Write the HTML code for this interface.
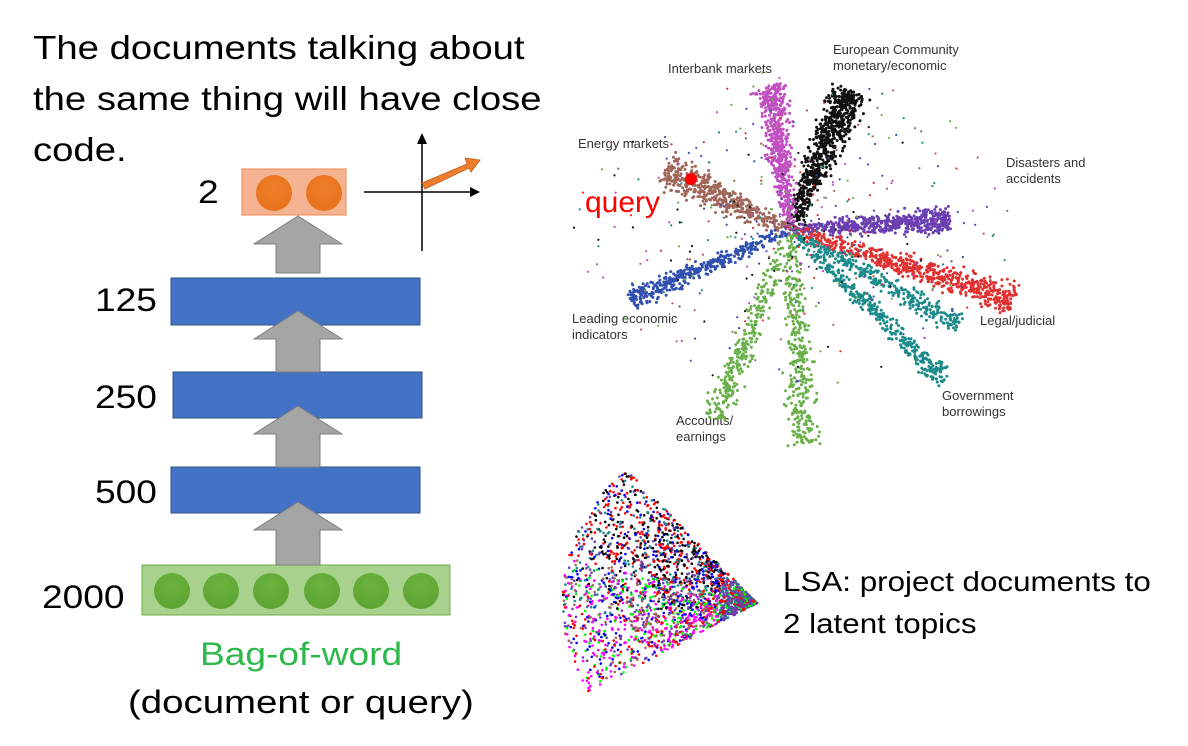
<!DOCTYPE html>
<html><head><meta charset="utf-8"><style>
body{margin:0;width:1188px;height:746px;background:#fff;overflow:hidden;position:relative;font-family:"Liberation Sans",sans-serif}
.t{position:absolute;white-space:nowrap;line-height:1;transform:scaleX(1.16);transform-origin:0 0}
.s{position:absolute;white-space:nowrap;font-size:13px;color:#333;line-height:1.25}
</style></head><body>
<div class="t" style="left:33px;top:22px;font-size:33px;line-height:51px">The documents talking about<br>the same thing will have close<br>code.</div>
<div class="t" style="left:198px;top:176px;font-size:32px">2</div>
<div class="t" style="left:95px;top:284px;font-size:32px">125</div>
<div class="t" style="left:95px;top:381px;font-size:32px">250</div>
<div class="t" style="left:95px;top:476px;font-size:32px">500</div>
<div class="t" style="left:42px;top:581px;font-size:32px">2000</div>
<div class="t" style="left:200px;top:638px;font-size:32px;color:#2db84a">Bag-of-word</div>
<div class="t" style="left:128px;top:686px;font-size:32px;transform:scaleX(1.2)">(document or query)</div>
<div class="t" style="left:783px;top:561px;font-size:28px;line-height:42px;transform:scaleX(1.12)">LSA: project documents to<br>2 latent topics</div>
<div class="s" style="left:668px;top:61px">Interbank markets</div>
<div class="s" style="left:833px;top:42px">European Community<br>monetary/economic</div>
<div class="s" style="left:578px;top:136px">Energy markets</div>
<div class="s" style="left:1006px;top:155px">Disasters and<br>accidents</div>
<div class="s" style="left:572px;top:311px">Leading economic<br>indicators</div>
<div class="s" style="left:980px;top:313px">Legal/judicial</div>
<div class="s" style="left:942px;top:388px">Government<br>borrowings</div>
<div class="s" style="left:676px;top:413px">Accounts/<br>earnings</div>
<svg id="sv" width="1188" height="746" style="position:absolute;left:0;top:0">
<defs>
<radialGradient id="og" cx="50%" cy="35%" r="60%"><stop offset="0" stop-color="#f07f2a"/><stop offset="1" stop-color="#e8731c"/></radialGradient>
<radialGradient id="gg" cx="50%" cy="35%" r="60%"><stop offset="0" stop-color="#6cb33e"/><stop offset="1" stop-color="#5fa533"/></radialGradient>
</defs>
<g id="dots"></g>
<rect x="242" y="169" width="104" height="46" fill="#f6b392" stroke="#f08a50"/>
<circle cx="274" cy="193" r="18" fill="url(#og)"/><circle cx="324" cy="193" r="18" fill="url(#og)"/>
<line x1="364" y1="192" x2="472" y2="192" stroke="#000" stroke-width="1.5"/><polygon points="480,192 470,187 470,197"/>
<line x1="422" y1="251" x2="422" y2="142" stroke="#000" stroke-width="1.5"/><polygon points="422,133 417,144 427,144"/>
<polygon points="422,183 467,164 465,158 480,160 471,172 469,168 425,189" fill="#ed7d31" stroke="#c55a11" stroke-width="0.8"/>
<rect x="171" y="278" width="249" height="47" fill="#4472c4" stroke="#2f528f"/>
<rect x="173" y="372" width="249" height="46" fill="#4472c4" stroke="#2f528f"/>
<rect x="171" y="467" width="249" height="46" fill="#4472c4" stroke="#2f528f"/>
<rect x="142" y="565" width="308" height="50" fill="#a9d18e" stroke="#70ad47"/>
<g fill="url(#gg)"><circle cx="172" cy="591" r="18"/><circle cx="221" cy="591" r="18"/><circle cx="271" cy="591" r="18"/><circle cx="322" cy="591" r="18"/><circle cx="371" cy="591" r="18"/><circle cx="421" cy="591" r="18"/></g>
<g fill="#a5a5a5" stroke="#7f7f7f" stroke-width="1">
<polygon points="298,216 342,244 320,244 320,273 276,273 276,244 254,244"/>
<polygon points="298,311 342,339 320,339 320,372 276,372 276,339 254,339"/>
<polygon points="298,406 342,434 320,434 320,467 276,467 276,434 254,434"/>
<polygon points="298,502 342,530 320,530 320,565 276,565 276,530 254,530"/>
</g>
<circle cx="691" cy="179" r="6" fill="#f00"/>
<text x="585" y="212" font-size="30" fill="#f00" font-family="Liberation Sans">query</text>
</svg>
<script>
var s=12345;function r(){s=(s*16807)%2147483647;return s/2147483647;}
function g(){return (r()+r()+r()-1.5)/1.5;}
var out=[];
function dot(x,y,c,rr){out.push('<circle cx="'+x.toFixed(1)+'" cy="'+y.toFixed(1)+'" r="'+rr+'" fill="'+c+'"/>');}
function arm(x0,y0,x1,y1,n,c,w){for(var i=0;i<n;i++){var t=Math.pow(r(),0.7);var dx=x1-x0,dy=y1-y0,L=Math.hypot(dx,dy);var px=-dy/L,py=dx/L;var o=g()*w*(0.5+t*0.7);dot(x0+dx*t+px*o,y0+dy*t+py*o,c,1.5);}}
var cx=790,cy=230;
arm(cx,cy,850,90,700,'#111',24);
arm(cx,cy,770,85,550,'#c050c0',20);
arm(cx,cy,665,170,450,'#a0665a',22);
arm(cx,cy,950,220,550,'#6a3fb0',16);
arm(cx,cy,1015,300,600,'#e03030',18);
arm(cx,cy,945,380,350,'#1a8a8a',14);
arm(cx,cy,960,325,300,'#1a8a8a',14);
arm(cx,cy,805,445,350,'#6ab04a',20);
arm(cx,cy,715,420,300,'#6ab04a',18);
arm(cx,cy,630,300,400,'#3050b0',14);
var cols=['#a0665a','#6ab04a','#3050b0','#c050c0','#1a8a8a','#6a3fb0','#e03030','#111'];
for(var i=0;i<400;i++){var a=r()*6.28,d=r()*200;dot(cx+Math.cos(a)*d*1.1,cy+Math.sin(a)*d*0.8,cols[i%8],1.1);}
// LSA cone from apex
var ax=757,ay=603;
var lc=['#000','#f00','#00f','#f0f','#0f0','#6a3fb0','#1a8a8a','#a0665a'];
for(var i=0;i<2600;i++){var th=(132+r()*78)*Math.PI/180;var d=195*Math.pow(r(),1.15);var x=ax+Math.cos(th)*d,y=ay-Math.sin(th)*d*0.92;
 var deg=th*180/Math.PI;var ci;
 if(d<40)ci=[5,5,5,1,4,6][Math.floor(r()*6)];
 else if(deg<165)ci=[0,0,1,1,5,6,2][Math.floor(r()*7)];
 else if(deg<185)ci=[0,1,2,3,4,5,6,7][Math.floor(r()*8)];
 else ci=[2,3,3,4,5,1,7][Math.floor(r()*7)];
 dot(x,y,lc[ci],1.3);}
document.getElementById('dots').innerHTML=out.join('');
</script>
</body></html>
